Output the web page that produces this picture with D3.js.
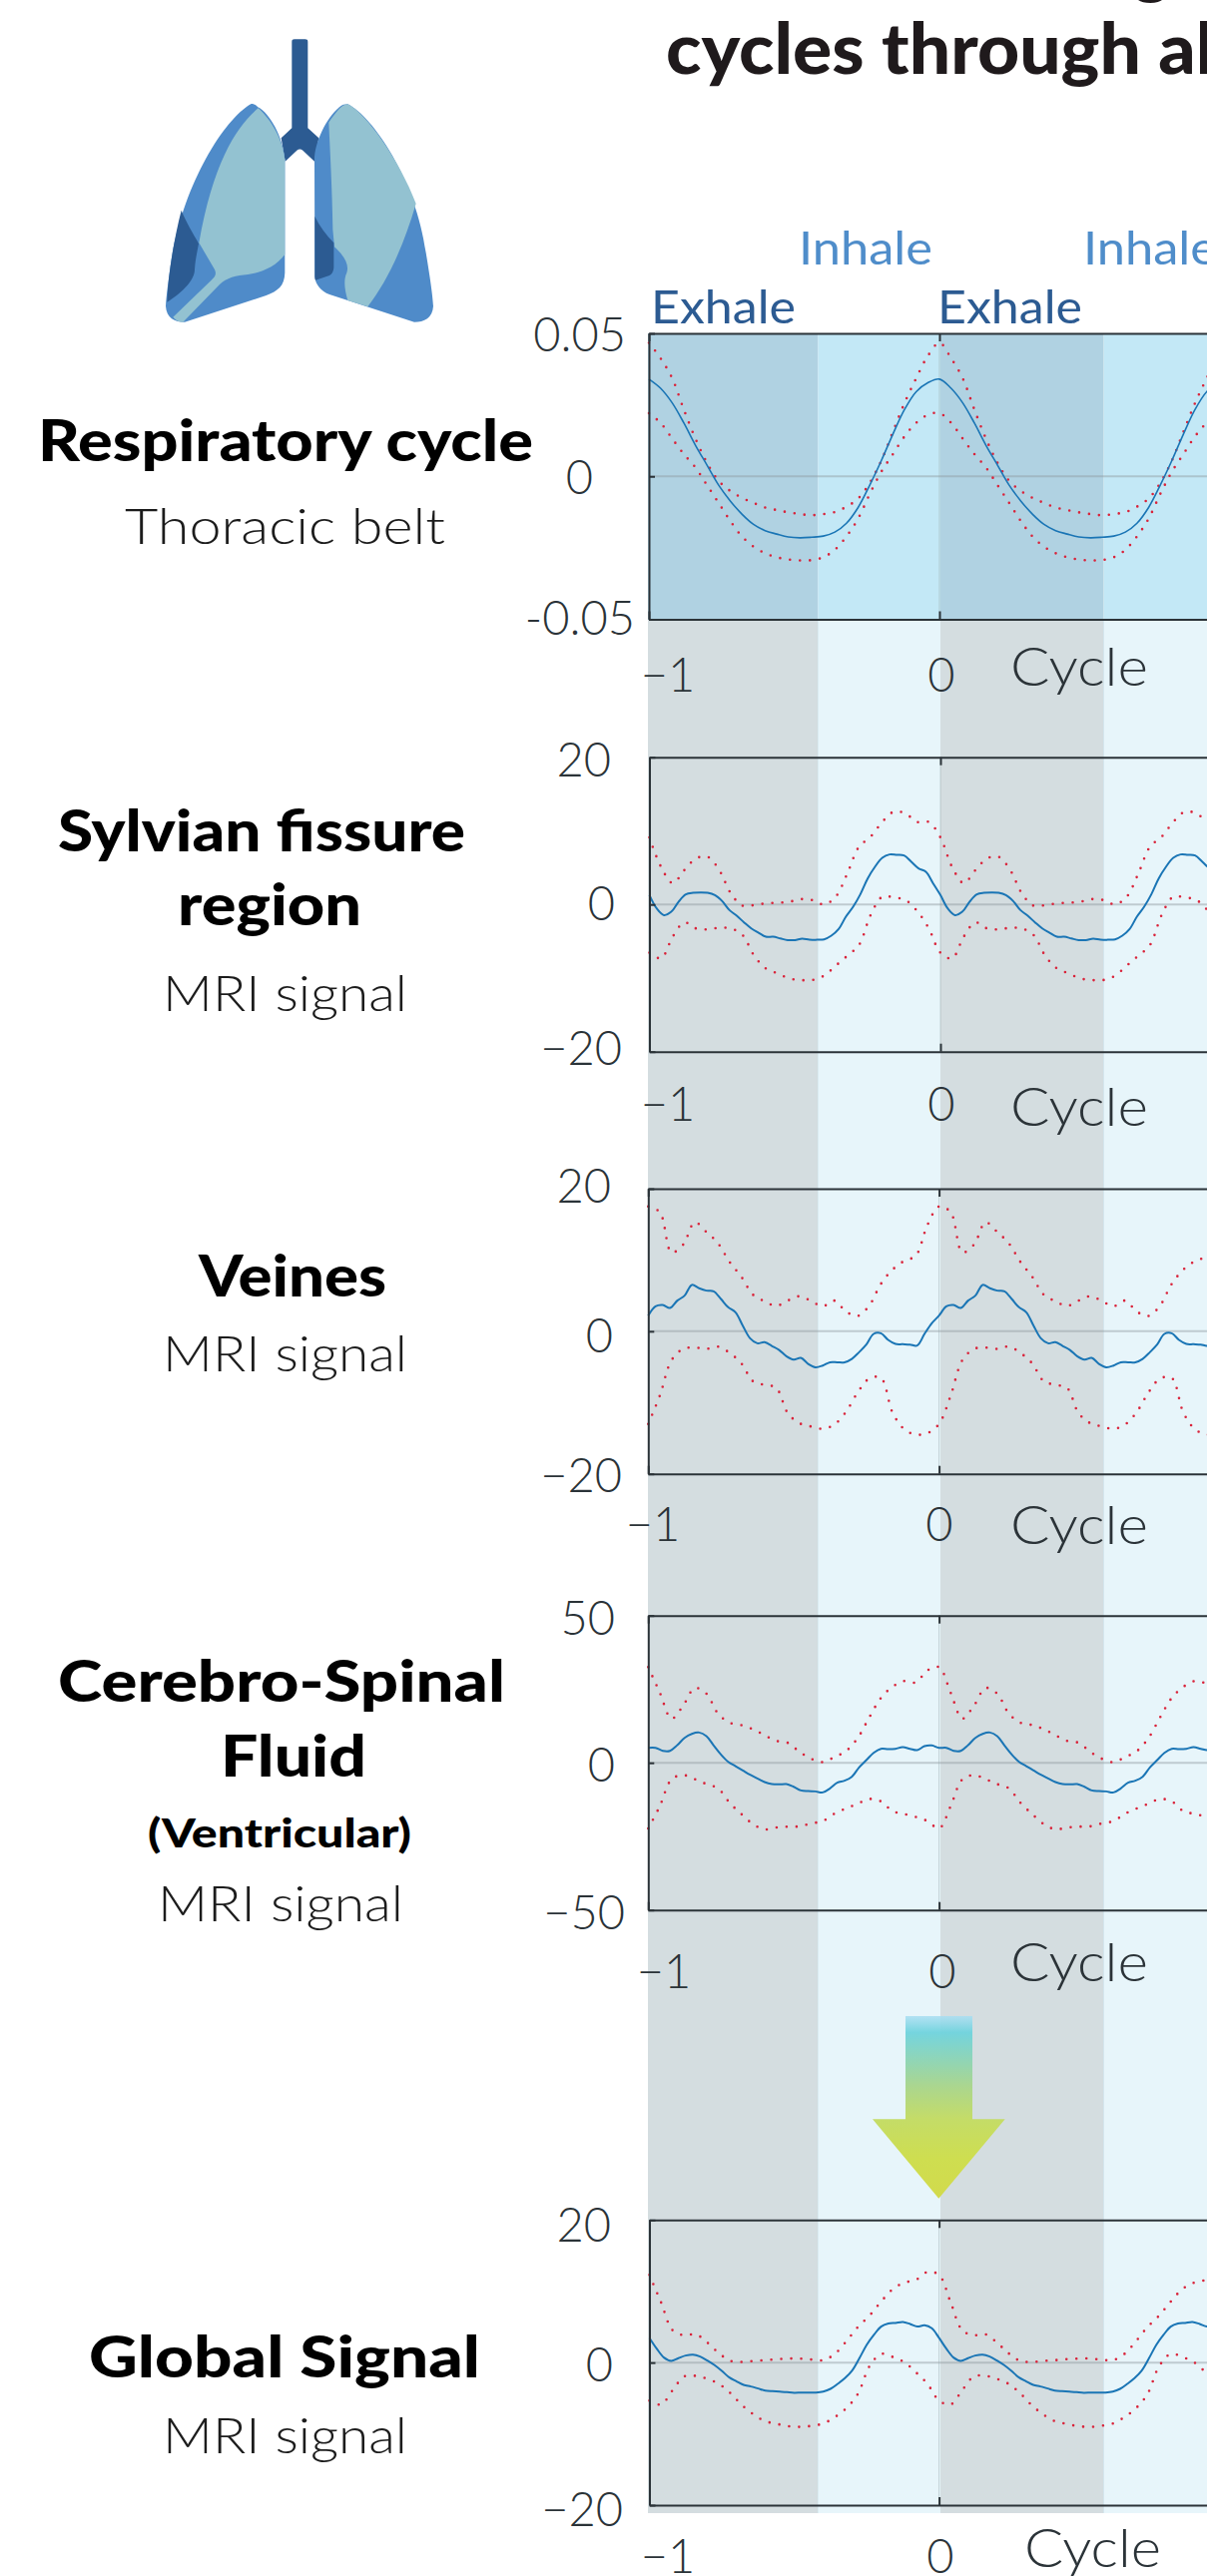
<!DOCTYPE html>
<html><head><meta charset="utf-8">
<script src="https://cdn.jsdelivr.net/npm/d3@7/dist/d3.min.js"></script>
<style>html,body{margin:0;padding:0;background:#fff;overflow:hidden}svg{display:block}</style>
</head><body><div id="c"></div>
<script>
// ---- values (one mean respiratory cycle, repeated for cycles -1..0 and 0..1)
const respMean=[0.034,0.0308,0.0257,0.0187,0.0109,0.0039,-0.0031,-0.0086,-0.0132,-0.0168,-0.019,-0.0202,-0.0212,-0.0215,-0.0213,-0.0209,-0.0195,-0.0164,-0.0109,-0.0031,0.0055,0.0148,0.0234,0.0296,0.0327];
const respUpper=[0.0467,0.0413,0.0343,0.0234,0.0132,0.0047,-0.0016,-0.0051,-0.0075,-0.0093,-0.0109,-0.0118,-0.0126,-0.0132,-0.0136,-0.0132,-0.0125,-0.0106,-0.0078,-0.0023,0.0055,0.0156,0.0257,0.0343,0.0421];
const respLower=[0.0221,0.0187,0.0132,0.0078,0.0031,-0.0031,-0.0093,-0.0156,-0.021,-0.0246,-0.0269,-0.0283,-0.0291,-0.0294,-0.0293,-0.0283,-0.0257,-0.021,-0.0148,-0.0062,0.0016,0.0078,0.014,0.0187,0.0215];
const sylvianMean=[1.27,-0.54,-1.45,-1.0,0.36,1.36,1.58,1.63,1.58,1.27,0.45,-0.77,-1.54,-2.44,-3.26,-3.85,-4.39,-4.39,-4.62,-4.84,-4.84,-4.66,-4.8,-4.8,-4.75,-4.25,-3.35,-1.67,-0.32,1.4,3.53,5.11,6.33,6.79,6.74,6.65,5.79,4.89,4.43,2.85];
const sylvianUpper=[9.1,5.1,2.9,4.66,6.24,6.47,4.66,1.49,-0.18,-0.09,0.14,0.23,0.36,0.72,0.59,0,1.04,4.2,7.83,9.19,11.2,12.6,12.35,11.2,11.2];
const sylvianLower=[-6.56,-7.33,-4.39,-2.44,-3.26,-3.39,-3.17,-3.26,-4.16,-6.97,-8.69,-9.37,-10.05,-10.27,-10.27,-9.68,-8.33,-6.97,-5.52,-1.45,1.04,0.95,0.59,-0.9,-3.26];
const veinesMean=[2.2,3.5,3.69,3.27,4.3,5.0,6.5,6.03,5.7,5.61,4.53,3.36,2.66,0.79,-0.98,-1.68,-1.54,-2.06,-2.62,-3.5,-3.97,-3.74,-4.58,-5.05,-4.81,-4.35,-4.35,-4.35,-3.88,-2.94,-1.87,-0.37,-0.28,-1.21,-1.78,-1.82,-1.87,-2.0,-0.37,1.12];
const veinesUpper=[17.5,16.7,11.07,12.15,15.28,13.93,12.34,9.72,7.66,5.14,4.21,3.55,4.3,4.91,4.25,3.5,4.3,2.76,2.15,3.6,6.64,8.64,9.86,10.6,14.9];
const veinesLower=[-13,-9.02,-4.07,-2.48,-2.29,-2.48,-2.15,-3.04,-4.49,-7.0,-7.52,-7.94,-11.5,-12.9,-13.36,-13.69,-13.08,-11.31,-8.6,-6.64,-6.54,-11.4,-13.74,-14.49,-14.3];
const csfMean=[5.08,5.08,4.07,4.07,5.99,8.47,9.83,10.28,9.04,5.88,2.82,0.34,-1.13,-2.6,-4.07,-5.31,-6.55,-7.23,-7.34,-7.23,-8.14,-9.38,-9.6,-9.72,-10.06,-8.7,-6.78,-6.1,-4.75,-1.58,0.9,3.39,4.75,4.63,4.75,5.31,4.75,4.29,5.65,5.88];
const csfUpper=[32.5,23.8,15.0,19.4,25.4,23.5,16.7,13.6,12.8,11.4,9.38,7.46,6.78,3.73,1.36,0.23,1.92,3.95,8.36,15.4,22.0,25.8,27.8,27.3,31.4];
const csfLower=[-22.3,-14.7,-5.65,-4.18,-5.54,-7.23,-8.7,-13.6,-17.4,-20.8,-22.6,-22.0,-21.7,-21.6,-20.6,-19.8,-17.3,-15.5,-13.9,-12.3,-13.1,-16.4,-17.4,-18.4,-19.8];
const globalMean=[3.46,1.96,0.7,0.23,0.61,0.98,1.12,0.84,0.28,-0.37,-1.17,-2.06,-2.62,-3.13,-3.36,-3.64,-3.93,-4.02,-4.07,-4.16,-4.25,-4.21,-4.21,-4.21,-4.07,-3.69,-2.99,-2.2,-1.12,0.61,2.48,3.88,5.05,5.47,5.56,5.7,5.42,5.05,5.23,4.81];
const globalUpper=[12.3,8.46,4.53,3.83,3.97,2.8,1.31,0.23,0.09,0.23,0.33,0.47,0.56,0.56,0.42,0.33,1.21,2.99,5.0,6.59,8.55,10.3,11.2,11.6,12.7];
const globalLower=[-5.33,-5.89,-3.88,-1.96,-1.87,-2.29,-2.99,-4.3,-5.98,-7.29,-8.22,-8.6,-8.93,-9.02,-8.88,-8.55,-7.66,-6.4,-4.39,-0.51,1.21,0.79,0.05,-1.36,-2.99];
const yLim1=0.05,yLim2=20,yLim3=20,yLim4=50,yLim5=20;
const yTickLabels1=["0.05","0","-0.05"],yTickLabels2=["20","0","−20"],yTickLabels3=["20","0","−20"],yTickLabels4=["50","0","−50"],yTickLabels5=["20","0","−20"];
const phaseNames=["Exhale","Inhale"];

// ---- layout
const W=1209,H=2581;
const FONT="Lato, 'Open Sans', sans-serif";
const C={frame:"#2b3338",blue:"#1a75b5",red:"#d9233a",txt:"#1f2326",ex:"#d4dde0",inh:"#e7f5fa",ex1:"#b0d2e2",inh1:"#c3e8f6"};
const panels=[
 {mean:respMean,up:respUpper,lo:respLower,lim:yLim1,labs:yTickLabels1,x0:650,x1:941,top:334,bot:620.5,
  yl:[[627,336],[594,479],[636,620]],xl:[[669,677],[943,677]],cyc:[1012,687,138],lw:1.6},
 {mean:sylvianMean,up:sylvianUpper,lo:sylvianLower,lim:yLim2,labs:yTickLabels2,x0:650.5,x1:942,top:758.7,bot:1053.7,
  yl:[[612,762],[616,906],[623,1051]],xl:[[669,1107],[943,1107]],cyc:[1012,1128,138],lw:2},
 {mean:veinesMean,up:veinesUpper,lo:veinesLower,lim:yLim3,labs:yTickLabels3,x0:649.3,x1:940.6,top:1191,bot:1476.7,
  yl:[[612,1189],[614,1339],[623,1479]],xl:[[654,1528],[941,1528]],cyc:[1012,1547,138],lw:2},
 {mean:csfMean,up:csfUpper,lo:csfLower,lim:yLim4,labs:yTickLabels4,x0:649.3,x1:940.6,top:1618.7,bot:1913.7,
  yl:[[616,1622],[616,1769],[626,1917]],xl:[[665,1976],[944,1976]],cyc:[1012,1985,138],lw:2},
 {mean:globalMean,up:globalUpper,lo:globalLower,lim:yLim5,labs:yTickLabels5,x0:650.5,x1:940.6,top:2224.3,bot:2510,
  yl:[[612,2230],[614,2370],[624,2515]],xl:[[669,2562],[942,2562]],cyc:[1026,2572,137],lw:2}
];
const rowText=[
 {t:"Respiratory cycle",x:38,w:496,y:462,s:58,b:900},
 {t:"Thoracic belt",x:125,w:321,y:545,s:50,b:300},
 {t:"Sylvian fissure",x:58,w:408,y:853,s:58,b:900},
 {t:"region",x:178,w:184,y:927,s:58,b:900},
 {t:"MRI signal",x:163,w:245,y:1013,s:50,b:300},
 {t:"Veines",x:199,w:188,y:1298.5,s:58,b:900},
 {t:"MRI signal",x:163,w:245,y:1373.5,s:50,b:300},
 {t:"Cerebro-Spinal",x:58,w:448,y:1705,s:58,b:900},
 {t:"Fluid",x:221,w:146,y:1780,s:58,b:900},
 {t:"(Ventricular)",x:148,w:264,y:1851,s:40,b:900},
 {t:"MRI signal",x:158,w:246,y:1925,s:50,b:300},
 {t:"Global Signal",x:89,w:392,y:2382,s:58,b:900},
 {t:"MRI signal",x:163,w:245,y:2458,s:50,b:300}
];

const svg=d3.select("#c").append("svg").attr("width",W).attr("height",H).attr("viewBox",`0 0 ${W} ${H}`);
const defs=svg.append("defs");
const grad=defs.append("linearGradient").attr("id","arrowGrad").attr("x1",0).attr("x2",0).attr("y1",0).attr("y2",1);
[[0,"#a9def2",.85],[.09,"#6fd3dd",.95],[.38,"#aad690",1],[.56,"#c4dc68",1],[.78,"#cede50",1],[1,"#d2da4c",1]]
 .forEach(s=>grad.append("stop").attr("offset",s[0]).attr("stop-color",s[1]).attr("stop-opacity",s[2]));

// phase bands behind all panels
const bandEdges=[649,819.4,942,1105.6,1209];
const gBand=svg.append("g");
d3.pairs(bandEdges).forEach((p,i)=>{
  gBand.append("rect").attr("x",p[0]).attr("width",p[1]-p[0]).attr("y",334).attr("height",2518-334).attr("fill",i%2?C.inh:C.ex);
  gBand.append("rect").attr("x",p[0]).attr("width",p[1]-p[0]).attr("y",334).attr("height",287).attr("fill",i%2?C.inh1:C.ex1);
  if(i%2==0) gBand.append("line").attr("x1",p[1]).attr("x2",p[1]).attr("y1",334).attr("y2",2518).attr("stroke","#c5dbe3").attr("stroke-width",1);
});

const twoCycles=(arr)=>{ // one measured cycle laid over cycles -1..0 and 0..1
  const n=arr.length,pts=[];
  [-1,0].forEach(c=>arr.forEach((v,i)=>pts.push([c+i/n,v])));
  pts.push([1,arr[0]]);
  return pts;
};

panels.forEach((p,pi)=>{
  const x=d3.scaleLinear().domain([-1,1]).range([p.x0,2*p.x1-p.x0]);
  const y=d3.scaleLinear().domain([-p.lim,p.lim]).range([p.bot,p.top]);
  const g=svg.append("g");
  // zero lines
  g.append("line").attr("x1",p.x0).attr("x2",W).attr("y1",y(0)).attr("y2",y(0)).attr("stroke","#8d9a9e").attr("stroke-opacity",.45).attr("stroke-width",2);
  g.append("line").attr("x1",x(0)).attr("x2",x(0)).attr("y1",p.top).attr("y2",p.bot).attr("stroke","#8d9a9e").attr("stroke-opacity",.4).attr("stroke-width",1);
  const line=d3.line().x(d=>x(d[0])).y(d=>y(d[1])).curve(d3.curveCatmullRom.alpha(.5));
  [p.up,p.lo].forEach(a=>g.append("path").attr("d",line(twoCycles(a))).attr("fill","none").attr("stroke",C.red)
     .attr("stroke-width",2.6).attr("stroke-linecap","round").attr("stroke-dasharray","0 10"));
  g.append("path").attr("d",line(twoCycles(p.mean))).attr("fill","none").attr("stroke",C.blue).attr("stroke-width",p.lw).attr("stroke-linejoin","round");
  // axes: box with inward ticks
  const tx=[-1,0,1];
  const axT=d3.axisTop(x).tickValues(tx).tickSizeInner(-8).tickSizeOuter(0).tickFormat("");
  const axB=d3.axisBottom(x).tickValues(tx).tickSizeInner(-8).tickSizeOuter(0).tickFormat("");
  const axL=d3.axisLeft(y).tickValues([-p.lim,0,p.lim]).tickSizeInner(-6).tickSizeOuter(0).tickFormat("");
  const fix=s=>{s.selectAll(".domain").attr("stroke",C.frame).attr("stroke-width",2);s.selectAll(".tick line").attr("stroke",C.frame).attr("stroke-width",2);};
  g.append("g").attr("transform",`translate(0,${p.top})`).call(axT).call(fix);
  g.append("g").attr("transform",`translate(0,${p.bot})`).call(axB).call(fix);
  g.append("g").attr("transform",`translate(${p.x0},0)`).call(axL).call(fix);
  // y tick labels
  p.labs.forEach((l,i)=>g.append("text").text(l).attr("x",p.yl[i][0]).attr("y",p.yl[i][1]).attr("dy",".34em")
     .attr("text-anchor","end").attr("font-family",FONT).attr("font-weight",300).attr("font-size",47).attr("fill",C.frame));
  // x tick labels
  ["−1","0"].forEach((l,i)=>g.append("text").text(l).attr("x",p.xl[i][0]).attr("y",p.xl[i][1]).attr("dy",".34em")
     .attr("text-anchor","middle").attr("font-family",FONT).attr("font-weight",300).attr("font-size",47).attr("fill",C.frame));
  if(pi==2) g.append("text").text("1").attr("x",1232).attr("y",p.xl[0][1]).attr("dy",".34em").attr("text-anchor","middle")
     .attr("font-family",FONT).attr("font-weight",300).attr("font-size",47).attr("fill",C.frame);
  g.append("text").text("Cycle").attr("x",p.cyc[0]).attr("y",p.cyc[1]).attr("textLength",p.cyc[2]).attr("lengthAdjust","spacingAndGlyphs")
     .attr("font-family",FONT).attr("font-weight",300).attr("font-size",54).attr("fill",C.frame);
});

// row labels
rowText.forEach(r=>svg.append("text").text(r.t).attr("x",r.x).attr("y",r.y).attr("textLength",r.w).attr("lengthAdjust","spacingAndGlyphs")
  .attr("font-family",FONT).attr("font-weight",r.b).attr("font-size",r.s).attr("fill",r.b>500?"#000":"#1c1c1c"));

// title (cropped at top and right of the picture)
svg.append("text").text("g").attr("x",1153).attr("y",-10).attr("text-anchor","middle").attr("font-family",FONT).attr("font-weight",900).attr("font-size",70).attr("fill","#1f1a1c");
svg.append("text").text("cycles through all").attr("x",667).attr("y",74).attr("textLength",568).attr("lengthAdjust","spacingAndGlyphs")
  .attr("font-family",FONT).attr("font-weight",900).attr("font-size",70).attr("fill","#1f1a1c");

// phase names above first panel
[[800,265,134,1,"#4f8dca"],[1085,265,134,1,"#4f8dca"],[652,324,145,0,"#2c5b92"],[939,324,145,0,"#2c5b92"]].forEach(t=>
  svg.append("text").text(phaseNames[t[3]]).attr("x",t[0]).attr("y",t[1]).attr("textLength",t[2]).attr("lengthAdjust","spacingAndGlyphs")
   .attr("font-family",FONT).attr("font-weight",400).attr("font-size",47).attr("fill",t[4]));

// arrow
svg.append("path").attr("d",d3.line()([[907,2020],[974,2020],[974,2123.3],[1006.7,2123.3],[940.3,2202.7],[874,2123.3],[907,2123.3]])+"Z").attr("fill","url(#arrowGrad)");

// lungs pictogram
const lung=svg.append("g").attr("transform","translate(140,20) scale(0.33333)");
const pathsL=[
 ["#2c5b92","M457,65Q457,58 465,58L497,58Q505,58 505,65L505,325L538,355L525,425L490,392Q481,385 472,392L437,425L425,355L457,325Z"],
 ["#4f8bc9","M335,252C250,300 130,500 95,720C85,790 80,830 78,860C80,895 105,908 135,908L380,828C415,815 435,800 436,760L436,420C430,350 390,280 355,262C348,255 342,252 335,252Z"],
 ["#93c2d1","M356,265C290,320 220,430 178,670L225,750C232,765 225,772 215,782L100,893C110,905 120,908 130,908L240,795C260,775 290,768 325,765C370,758 410,740 436,705L436,420C430,360 395,300 356,265Z"],
 ["#2c5b92","M125,572C105,650 85,760 82,848C120,825 165,785 165,750C167,720 172,700 177,672C160,640 140,610 125,572Z"],
 ["#4f8bc9","M625,253C700,290 830,480 860,700C875,790 880,830 882,860C880,895 855,908 825,908L570,825C545,815 527,795 526,770L525,420C525,370 560,295 600,262C608,255 616,253 625,253Z"],
 ["#93c2d1","M625,253C680,280 780,420 830,552C790,690 740,790 685,862L625,843C615,810 612,780 622,760C630,735 615,710 585,682L580,630C578,500 572,400 568,308C585,285 605,253 625,253Z"],
 ["#2c5b92","M526,590L526,770C526,775 527,780 528,782L570,768C578,765 582,755 583,745L583,670C560,645 540,620 526,590Z"]
];
pathsL.forEach(p=>lung.append("path").attr("d",p[1]).attr("fill",p[0]));
</script></body></html>
